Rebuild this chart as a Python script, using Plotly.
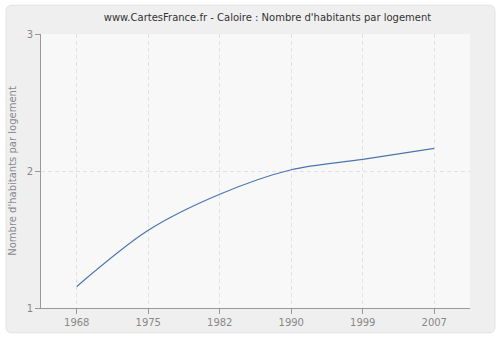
import plotly.graph_objects as go

years = ["1968", "1975", "1982", "1990", "1999", "2007"]
values = [1.157, 1.567, 1.83, 2.009, 2.085, 2.165]
y_ticks = [1, 2, 3]

title_text = "www.CartesFrance.fr - Caloire : Nombre d'habitants par logement"
y_title = "Nombre d'habitants par logement"

fig = go.Figure()
fig.add_trace(go.Scatter(
    x=years, y=values, mode="lines",
    line=dict(color="#4a76ae", width=1.2, shape="spline", smoothing=0.9),
    hoverinfo="skip", showlegend=False,
))

L, R, T, B = 40, 30, 34, 30
W, H = 500, 340
pw, ph = W - L - R, H - T - B

def px_x(p):
    return (p - L) / pw

def px_y(p):
    return (H - B - p) / ph

# rounded outer panel
x0, x1, y0, y1 = px_x(5), px_x(495), px_y(335), px_y(5)
rx = 6 / pw
ry = 6 / ph
path = (f"M {x0+rx},{y0} L {x1-rx},{y0} Q {x1},{y0} {x1},{y0+ry} "
        f"L {x1},{y1-ry} Q {x1},{y1} {x1-rx},{y1} L {x0+rx},{y1} "
        f"Q {x0},{y1} {x0},{y1-ry} L {x0},{y0+ry} Q {x0},{y0} {x0+rx},{y0} Z")
fig.add_shape(type="path", path=path, xref="paper", yref="paper",
              fillcolor="#efefef", line=dict(color="#e2e2e2", width=1), layer="below")
fig.add_shape(type="rect", x0=0, x1=1, y0=0, y1=1, xref="paper", yref="paper",
              fillcolor="#f8f8f8", line=dict(width=0), layer="below")

grid = dict(showgrid=True, gridcolor="#e2e2e2", griddash="4px,3px", gridwidth=1)

fig.update_layout(
    width=W, height=H,
    margin=dict(l=L, r=R, t=T, b=B),
    paper_bgcolor="white",
    plot_bgcolor="#f8f8f8",
    font=dict(family="DejaVu Sans", size=10, color="#888888"),
    title=dict(text=title_text, x=px_x(267), xref="paper", xanchor="center",
               y=1 - 17 / H, yref="container", yanchor="middle",
               font=dict(family="DejaVu Sans", size=10, color="#333333")),
    xaxis=dict(
        type="category", range=[-0.5, 5.5],
        showline=True, linecolor="#999999", linewidth=1,
        ticks="outside", ticklen=5, tickcolor="#999999",
        tickfont=dict(size=10, color="#888888"),
        zeroline=False, **grid,
    ),
    yaxis=dict(
        range=[1, 3], tickvals=y_ticks,
        showline=True, linecolor="#999999", linewidth=1,
        ticks="outside", ticklen=5, tickcolor="#999999",
        tickfont=dict(size=10, color="#888888"),
        title=dict(text=y_title, font=dict(size=10, color="#888888"), standoff=8),
        zeroline=False, **grid,
    ),
)

fig.write_html("out.html")
